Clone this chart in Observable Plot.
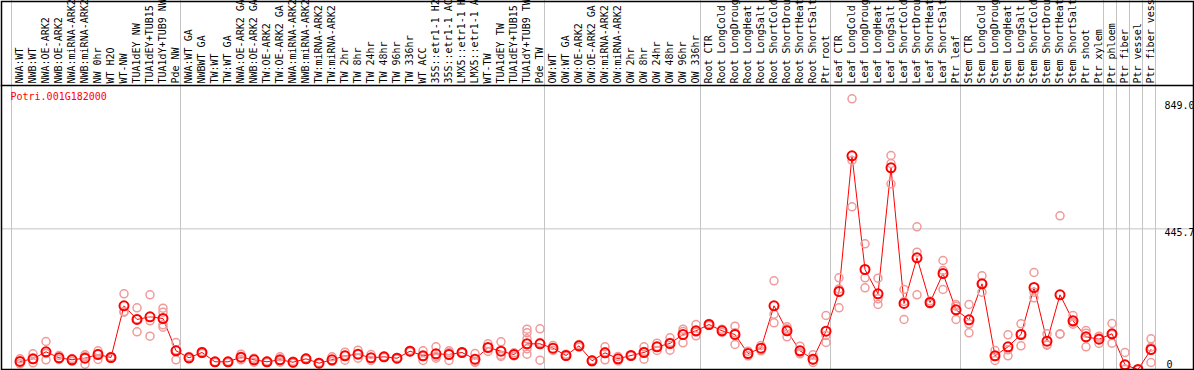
<!DOCTYPE html>
<html>
<head>
<meta charset="utf-8">
<script src="https://cdn.jsdelivr.net/npm/d3@7"></script>
<script src="https://cdn.jsdelivr.net/npm/@observablehq/plot@0.6"></script>
<style>
  html, body { margin: 0; padding: 0; background: white; }
  #chart svg { display: block; }
</style>
</head>
<body>
<div id="chart"></div>
<script>
const geneId = "Potri.001G182000";

const labels = [
  "NWA:WT","NWB:WT","NWA:OE-ARK2","NWB:OE-ARK2","NWA:miRNA-ARK2","NWB:miRNA-ARK2","NW 0hr","WT H2O","WT-NW","TUA1dEY NW","TUA1dEY+TUB15 NW","TUA1dY+TUB9 NW","Pde NW",
  "NWA:WT GA","NWBWT GA","TW:WT","TW:WT GA","NWA:OE-ARK2 GA","NWB:OE-ARK2 GA","TW:OE-ARK2","TW:OE-ARK2 GA","NWA:miRNA-ARK2","NWB:miRNA-ARK2","TW:miRNA-ARK2","TW:miRNA-ARK2","TW 2hr","TW 8hr","TW 24hr","TW 48hr","TW 96hr","TW 336hr","WT ACC","35S::etr1-1 H2O","35S::etr1-1 ACC","LMX5::etr1-1 H2O","LMX5::etr1-1 ACC","WT-TW","TUA1dEY TW","TUA1dEY+TUB15 TW","TUA1dY+TUB9 TW","Pde TW",
  "OW:WT","OW:WT GA","OW:OE-ARK2","OW:OE-ARK2 GA","OW:miRNA-ARK2","OW:miRNA-ARK2","OW 2hr","OW 8hr","OW 24hr","OW 48hr","OW 96hr","OW 336hr",
  "Root CTR","Root LongCold","Root LongDrought","Root LongHeat","Root LongSalt","Root ShortCold","Root ShortDrought","Root ShortHeat","Root ShortSalt","Ptr root",
  "Leaf CTR","Leaf LongCold","Leaf LongDrought","Leaf LongHeat","Leaf LongSalt","Leaf ShortCold","Leaf ShortDrought","Leaf ShortHeat","Leaf ShortSalt","Ptr leaf",
  "Stem CTR","Stem LongCold","Stem LongDrought","Stem LongHeat","Stem LongSalt","Stem ShortCold","Stem ShortDrought","Stem ShortHeat","Stem ShortSalt","Ptr shoot","Ptr xylem",
  "Ptr phloem","Ptr fiber","Ptr vessel","Ptr fiber vessel"
];

const groupSizes = [13, 28, 12, 10, 10, 11, 1, 1, 1, 1];

const means = [
  25.4,33.9,56.1,37.1,30.7,35.8,47.5,38.0,201.9,158.5,167.0,161.6,59.3,
  37.1,53.9,24.4,24.4,39.0,30.7,24.4,30.7,23.1,33.9,20.0,30.7,43.4,48.5,37.1,40.2,35.8,58.0,43.4,49.8,47.5,53.9,32.6,69.7,58.0,47.5,81.4,81.4,
  67.5,44.4,75.1,27.6,52.9,33.9,44.4,53.9,71.9,82.4,110.9,122.6,
  142.6,122.6,110.9,50.7,67.5,201.9,122.6,59.3,32.6,121.4,
  247.2,677.2,316.9,239.9,639.2,209.2,354.0,212.3,304.2,189.2,
  157.5,271.6,43.4,71.9,110.9,259.9,89.7,236.7,154.3,103.6,96.0,
  113.1,14.9,0,63.4
];

const reps = [
  [33.9,18.1,25.4],[49.8,21.2,31.7],[88.7,30.7,50.7],[44.4,31.7],[34.9,25.4],[46.6,16.8,41.2],[59.3,31.7,50.7],[41.2,34.9],
  [239.9,181.6,183.8],[195.5,119.5,160.0],[236.7,154.3,105.5],[194.3,181.6,141.7,134.0],[85.6,30.7,61.5],
  [41.2,33.3],[57.0,50.7],[25.4,22.2],[26.3,22.2],[48.5,30.7,38.0],[35.8,23.1],[26.9,22.2],[40.2,23.1,28.5],[26.3,20.0],[36.4,31.7],
  [22.2,18.1],[40.2,25.4],[54.8,29.5,45.3],[61.2,35.8,48.5],[47.5,28.5],[42.1,38.0],[38.0,33.3],[60.2,55.5],[59.3,28.5,42.1],
  [71.9,35.8,41.2],[59.3,28.5,53.9],[55.5,52.3],[50.7,22.2,25.4],[81.4,57.0,69.7],[87.8,41.2,45.3],[52.9,42.8],
  [127.7,116.3,97.3,65.6,48.5],[129.0,29.5,85.6],
  [76.1,60.2],[48.5,41.2],[79.2,70.7],[30.1,24.4],[71.9,30.7,56.1],[41.2,26.9],[46.0,42.8],[71.9,32.6,57.0],[83.3,60.2,72.9],[100.5,61.2,85.6],[127.7,84.6,120.4],[142.6,106.8,118.5],
  [145.8,139.4],[127.7,117.3],[137.2,79.2,116.3],[58.0,43.4],[76.1,59.3],[281.1,175.2,148.0],[135.3,103.6,129.0],[73.8,49.8,53.9],[46.6,22.2,29.5],[171.1,85.6,107.7],
  [290.6,195.5,255.4],[857.9,662.3,515.6],[398.3,290.6,258.9],[289.3,224.1,206.0],[678.2,652.8,588.5],[253.5,158.5,215.5],[452.2,371.7,236.7],[217.1,207.6],[345.4,253.5,313.7],[206.0,200.6,158.5],
  [206.0,144.8,116.3],[296.9,245.0,272.5],[60.2,28.5,41.2],[110.0,43.4,62.4],[144.8,75.1,112.8],[307.4,245.0,227.2],[113.1,77.0,79.2],[487.1,113.1,111.9],[171.1,143.6,148.9],[123.6,71.9,115.0],[105.5,82.4,100.1],
  [145.8,83.3,110.9],[53.9,1.6,0],[0,0],[97.3,70.7,22.2]
];

const yTicks = [0, 445.7, 849.0];
const gridValues = [445.7];

// derived tables
const meanData = means.map((v, i) => ({i, v}));
const repData = reps.flatMap((arr, i) => arr.map(v => ({i, v})));
const starts = groupSizes.reduce((acc, n) => { acc.push(acc[acc.length - 1] + n); return acc; }, [0]);
const sepOffset = 8.5 / 13; // separator sits between columns

const mono = "'DejaVu Sans Mono', 'Liberation Mono', monospace";

const chart = Plot.plot({
  width: 1194,
  height: 370,
  marginTop: 85,
  marginBottom: 1,
  marginLeft: 19.5,
  marginRight: 43.5,
  style: {fontFamily: mono, fontSize: "10px", background: "white", overflow: "hidden"},
  x: {type: "linear", domain: [0, labels.length - 1], axis: null, label: null},
  y: {type: "linear", domain: [0, 900], axis: null, label: null},
  marks: [
    Plot.ruleY(gridValues, {stroke: "#c4c4c4", strokeWidth: 1, insetLeft: -18.5, insetRight: -42.5}),
    Plot.ruleX(starts, {x: d => d - sepOffset, stroke: "#c4c4c4", strokeWidth: 1, insetTop: -85, insetBottom: -2}),
    Plot.axisX(d3.range(labels.length), {
      anchor: "top", tickSize: 0, tickPadding: 2, tickRotate: -90, label: null,
      tickFormat: i => labels[i], fontFamily: mono, fontSize: 10, fill: "black"
    }),
    Plot.line(meanData, {x: "i", y: "v", stroke: "red", strokeWidth: 1}),
    Plot.dot(repData, {x: "i", y: "v", r: 4, stroke: "#f09a9a", strokeWidth: 1.5, fill: "none"}),
    Plot.dot(meanData, {x: "i", y: "v", r: 4.5, stroke: "red", strokeWidth: 2, fill: "none"}),
    Plot.frame({stroke: "black", strokeWidth: 1.5, insetTop: -84, insetLeft: -18.5, insetRight: -42.5}),
    Plot.frame({anchor: "top", stroke: "black", strokeWidth: 1.5, insetLeft: -18.5, insetRight: -42.5}),
    Plot.text([geneId], {frameAnchor: "top-left", dx: -9.5, dy: 7, fill: "red", textAnchor: "start", lineAnchor: "top", fontFamily: mono, fontSize: 10}),
    Plot.text(yTicks.filter(d => d !== 0), {
      frameAnchor: "right", y: d => d, dx: 13.5, text: d => d.toFixed(1),
      textAnchor: "start", lineAnchor: "top", fill: "black", fontFamily: mono, fontSize: 10
    }),
    Plot.text(yTicks.filter(d => d === 0), {
      frameAnchor: "right", y: d => d, dx: 15.5, dy: -2, text: d => String(d),
      textAnchor: "start", lineAnchor: "bottom", fill: "black", fontFamily: mono, fontSize: 10
    })
  ]
});
document.getElementById("chart").appendChild(chart);
</script>
</body>
</html>
